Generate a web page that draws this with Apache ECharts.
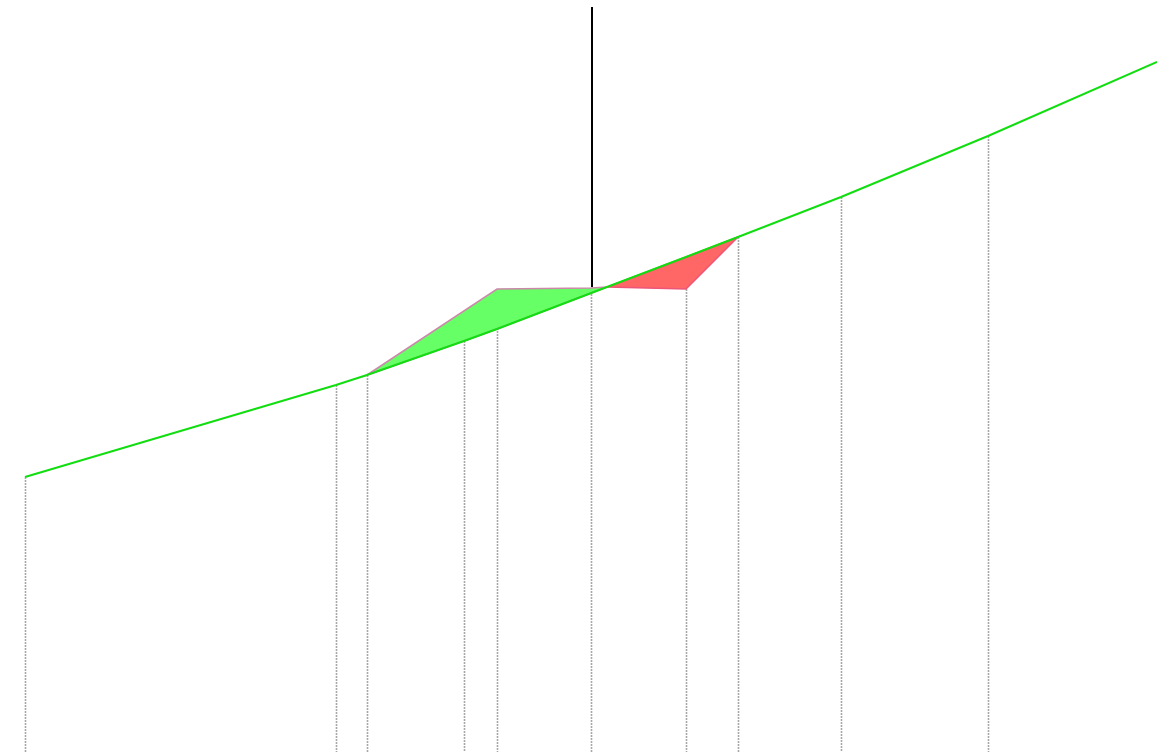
<!DOCTYPE html>
<html>
<head>
<meta charset="utf-8">
<script src="https://cdn.jsdelivr.net/npm/echarts@6/dist/echarts.min.js"></script>
<style>
	html,body{margin:0;padding:0;background:#fff;}
	#chart{width:1157px;height:752px;}
</style>
</head>
<body>
<div id="chart"></div>
<script>
// curve points (x, y)
var curveX = [25, 336, 367, 464, 497, 607, 686, 738, 841, 988, 1157];
var curveY = [275, 367, 377, 411, 423, 465, 495, 515, 555, 616, 690];

// upper edge of the green and red areas
var greenTopX = [367, 497, 591, 607];
var greenTopY = [377, 463, 464, 465];
var redTopX = [607, 686, 738];
var redTopY = [465, 463, 515];

// drop lines
var dropX = [25, 336, 367, 464, 497, 591, 686, 738, 841, 988];
var dropY = [275, 367, 377, 411, 463, 464, 463, 515, 555, 616];

// black marker
var markerX = 591;
var markerTop = 745;
var markerBottom = 465;

var chart = echarts.init(document.getElementById('chart'));

function pairs(xs, ys){
	var out = [];
	for(var i=0;i<xs.length;i++){ out.push([xs[i], ys[i]]); }
	return out;
}

// points of the curve between two x values
function curveBetween(x0, x1){
	var out = [];
	for(var i=0;i<curveX.length;i++){
		if(curveX[i]>=x0 && curveX[i]<=x1){ out.push([curveX[i], curveY[i]]); }
	}
	return out;
}

function polygonSeries(topX, topY, fill, stroke){
	var top = pairs(topX, topY);
	var bottom = curveBetween(topX[0], topX[topX.length-1]).reverse();
	var poly = top.concat(bottom);
	return {
		type: 'custom',
		silent: true,
		data: [0],
		renderItem: function(params, api){
			var pts = poly.map(function(p){ return api.coord(p); });
			return {
				type: 'polygon',
				shape: {points: pts},
				style: {fill: fill, stroke: stroke, lineWidth: 1.5}
			};
		},
		z: 3
	};
}

var option = {
	animation: false,
	grid: {left: 0, right: 0, top: 0, bottom: 0},
	xAxis: {type: 'value', min: 0, max: 1157, show: false},
	yAxis: {type: 'value', min: 0, max: 752, show: false},
	series: [
		{
			type: 'custom',
			silent: true,
			data: pairs(dropX, dropY),
			renderItem: function(params, api){
				var a = api.coord([api.value(0), api.value(1)]);
				var b = api.coord([api.value(0), 0]);
				return {
					type: 'line',
					shape: {x1: a[0]+0.5, y1: a[1], x2: b[0]+0.5, y2: b[1]},
					style: {stroke: '#a8a8a8', lineWidth: 1.6, lineDash: [2, 1]}
				};
			},
			z: 1
		},
		polygonSeries(greenTopX, greenTopY, '#66ff66', '#cc88aa'),
		polygonSeries(redTopX, redTopY, '#ff6666', '#ee5577'),
		{
			type: 'line',
			silent: true,
			data: pairs(curveX, curveY),
			showSymbol: false,
			lineStyle: {color: '#11dd11', width: 2},
			z: 4
		},
		{
			type: 'custom',
			silent: true,
			data: [[markerX, markerTop, markerBottom]],
			renderItem: function(params, api){
				var a = api.coord([api.value(0), api.value(1)]);
				var b = api.coord([api.value(0), api.value(2)]);
				return {
					type: 'line',
					shape: {x1: a[0]+1, y1: a[1], x2: b[0]+1, y2: b[1]},
					style: {stroke: '#000000', lineWidth: 2}
				};
			},
			z: 5
		}
	]
};

chart.setOption(option);
</script>
</body>
</html>
